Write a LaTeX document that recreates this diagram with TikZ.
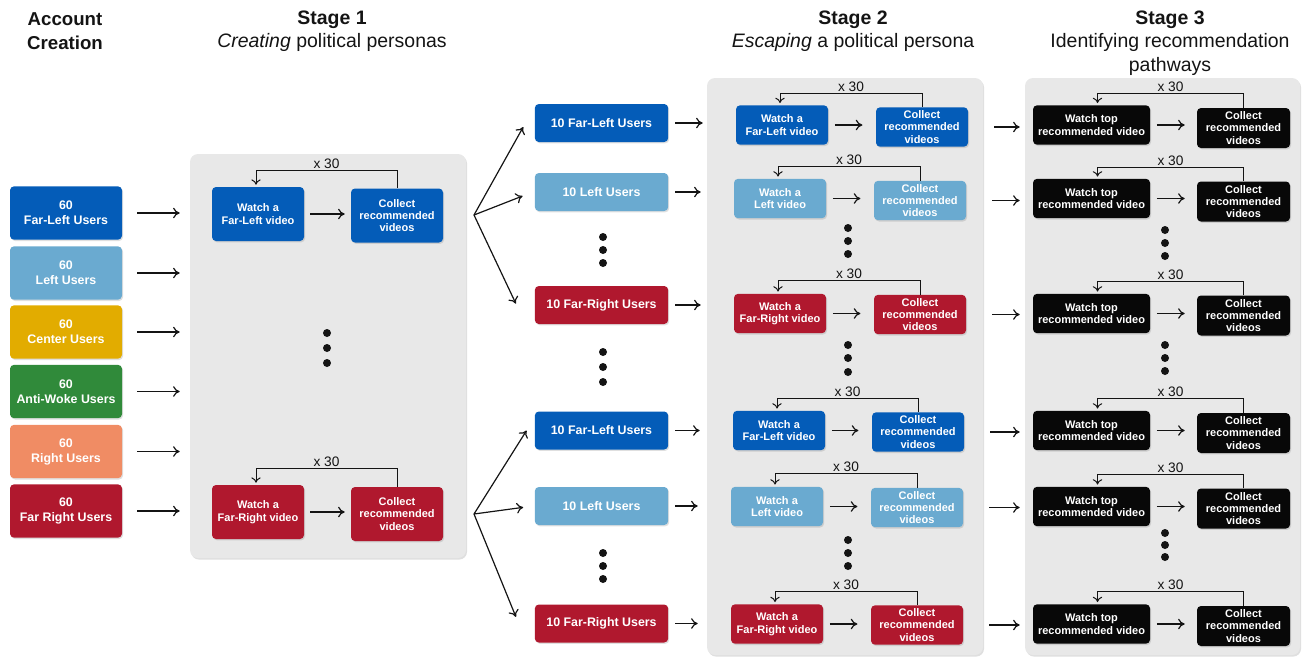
\documentclass[tikz,border=0pt]{standalone}
\usepackage{fontspec}
\setmainfont{Liberation Sans}
\usetikzlibrary{arrows.meta,shadows}
\definecolor{FL}{RGB}{4,92,184}
\definecolor{L}{RGB}{106,170,208}
\definecolor{C}{RGB}{226,172,0}
\definecolor{AW}{RGB}{48,138,58}
\definecolor{R}{RGB}{240,140,100}
\definecolor{FR}{RGB}{176,24,46}
\definecolor{panelgray}{RGB}{232,232,232}
\definecolor{ink}{RGB}{20,20,20}
\definecolor{blk}{RGB}{8,8,8}
\begin{document}
\begin{tikzpicture}[x=0.75pt,y=-0.75pt,
  box/.style={rounded corners=3pt, text=white, align=center, inner sep=0pt,
    drop shadow={shadow xshift=0.8pt,shadow yshift=-1pt,opacity=0.25}},
  userbox/.style={box, minimum width=84pt, minimum height=40pt, font=\bfseries\fontsize{9.3}{11.25}\selectfont},
  midbox/.style={box, minimum width=100pt, minimum height=28.5pt, font=\bfseries\fontsize{9.3}{11.25}\selectfont},
  sonebox/.style={box, minimum width=69pt, minimum height=40.5pt, font=\bfseries\fontsize{8.25}{9.3}\selectfont},
  stwobox/.style={box, minimum width=69pt, minimum height=29.5pt, font=\bfseries\fontsize{8.25}{9.3}\selectfont},
  sthreew/.style={box, fill=blk, minimum width=87.75pt, minimum height=29.5pt, font=\bfseries\fontsize{8.25}{9.3}\selectfont},
  sthreec/.style={box, fill=blk, minimum width=69.75pt, minimum height=30pt, font=\bfseries\fontsize{8.25}{9.3}\selectfont},
  panel/.style={fill=panelgray, rounded corners=6pt, inner sep=0pt,
    drop shadow={shadow xshift=0.8pt,shadow yshift=-1.2pt,opacity=0.25}},
  arr/.style={draw=ink, -{To[length=5pt,width=8pt]}, line width=0.9pt},
  looparr/.style={draw=ink, -{To[length=4pt,width=7pt]}, line width=0.75pt},
  xlab/.style={font=\fontsize{10.3}{11}\selectfont, text=ink, inner sep=1pt, above},
  title/.style={align=center, text=ink, font=\fontsize{14.6}{17.6}\selectfont},
]
\useasboundingbox (0,0) rectangle (1303,658);

% titles
\node[title, font=\bfseries\fontsize{14}{17.6}\selectfont] (t0) at (65,31) {Account\\Creation};
\node[title] (t1) at (332,31) {\textbf{Stage 1}\\\textit{Creating} political personas};
\node[title] (t2) at (853,31) {\textbf{Stage 2}\\\textit{Escaping} a political persona};
\node[title] (t3) at (1170,43) {\textbf{Stage 3}\\Identifying recommendation\\pathways};

% panels
\node[panel, minimum width=207pt, minimum height=303pt] (S1) at (328,356) {};
\node[panel, minimum width=207pt, minimum height=432.75pt] (S2) at (845,366.5) {};
\node[panel, minimum width=206.25pt, minimum height=432.75pt] (S3) at (1162.5,366.5) {};

% account creation boxes
\node[userbox, fill=FL] (a1) at (66,213) {60\\Far-Left Users};
\node[userbox, fill=L]  (a2) at (66,273) {60\\Left Users};
\node[userbox, fill=C]  (a3) at (66,332) {60\\Center Users};
\node[userbox, fill=AW] (a4) at (66,391.5) {60\\Anti-Woke Users};
\node[userbox, fill=R]  (a5) at (66,451.5) {60\\Right Users};
\node[userbox, fill=FR] (a6) at (66,511) {60\\Far Right Users};
\foreach \i in {1,...,6}{
  \draw[arr, shorten <=11.25pt, shorten >=7.5pt] (a\i.east) -- (a\i.east -| S1.west);
}

% stage 1
\node[sonebox, fill=FL] (w01) at (258,214) {Watch a\\Far-Left video};
\node[sonebox, fill=FL] (c01) at (397,215.5) {Collect\\recommended\\videos};
\node[sonebox, fill=FR] (w02) at (258,512) {Watch a\\Far-Right video};
\node[sonebox, fill=FR] (c02) at (397,514) {Collect\\recommended\\videos};
\foreach \i in {01,02}{
  \draw[arr, shorten <=4.5pt, shorten >=4.5pt] (w\i.east) -- (w\i.east -| c\i.west);
  \draw[looparr] (c\i.north) -- ++(0,-18) -| node[xlab, pos=0.25]{x 30} ([xshift=-1.5pt,yshift=1.5pt]w\i.north);
}
\foreach \y in {333,348,363} \fill[ink] (327,\y) circle (4);

% fan
\coordinate (F1) at (474,215);
\coordinate (F2) at (474,514);

% middle boxes
\node[midbox, fill=FL] (m1) at (601.5,123) {10 Far-Left Users};
\node[midbox, fill=L]  (m2) at (601.5,192) {10 Left Users};
\node[midbox, fill=FR] (m3) at (601.5,305) {10 Far-Right Users};
\node[midbox, fill=FL] (m4) at (601.5,430.5) {10 Far-Left Users};
\node[midbox, fill=L]  (m5) at (601.5,506) {10 Left Users};
\node[midbox, fill=FR] (m6) at (601.5,623.5) {10 Far-Right Users};

\draw[arr] (F1) -- ([xshift=-8.5pt,yshift=-3pt]m1.west);
\draw[arr] (F1) -- ([xshift=-9pt,yshift=-3pt]m2.west);
\draw[arr] (F1) -- ([xshift=-14pt,yshift=1pt]m3.west);
\draw[arr] (F2) -- ([xshift=-6pt,yshift=0pt]m4.west);
\draw[arr] (F2) -- ([xshift=-8.5pt,yshift=-1pt]m5.west);
\draw[arr] (F2) -- ([xshift=-14pt,yshift=5pt]m6.west);

\foreach \y in {237,250,263,352,367,382,553,566,579} \fill[ink] (603,\y) circle (4);

% stage 2 and 3 rows
\foreach \i/\wx/\wy/\cx/\cy/\col/\lbl in {
  1/782/125/922/127/FL/Far-Left,
  2/780/198.5/920/200.5/L/Left,
  3/780/313.5/920/314.5/FR/Far-Right,
  4/779/430.5/918/432/FL/Far-Left,
  5/777/506.5/917/507.5/L/Left,
  6/777/624/917/625/FR/Far-Right}{
  \node[stwobox, fill=\col] (w\i) at (\wx,\wy) {Watch a\\\lbl{} video};
  \node[stwobox, fill=\col] (c\i) at (\cx,\cy) {Collect\\recommended\\videos};
  \draw[arr, shorten <=5pt, shorten >=10pt] (w\i.east) -- (w\i.east -| c\i.west);
  \draw[looparr] (c\i.north) -- ++(0,-14) -| node[xlab, pos=0.25]{x 30} ([xshift=-1.5pt,yshift=1.5pt]w\i.north);
  \draw[arr, shorten <=5.25pt, shorten >=24.75pt] (m\i.east) -- (m\i.east -| w\i.west);
  \node[sthreew] (tw\i) at (1091.5,\wy) {Watch top\\recommended video};
  \node[sthreec] (tc\i) at (1243.5,\cy+1) {Collect\\recommended\\videos};
  \draw[arr, shorten <=5pt, shorten >=9pt] (tw\i.east) -- (tw\i.east -| tc\i.west);
  \draw[looparr] (tc\i.north) -- ++(0,-14) -| node[xlab, pos=0.25]{x 30} ([xshift=4.5pt,yshift=1.5pt]tw\i.north);
  \draw[arr, shorten <=19.5pt, shorten >=9.75pt] (c\i.east) -- (c\i.east -| tw\i.west);
}
\foreach \y in {228,241,254,345,358,372,540,553,566} \fill[ink] (848,\y) circle (4);
\foreach \y in {230,243,256,345,358,371,533,545,557} \fill[ink] (1165,\y) circle (4);
\end{tikzpicture}
\end{document}
